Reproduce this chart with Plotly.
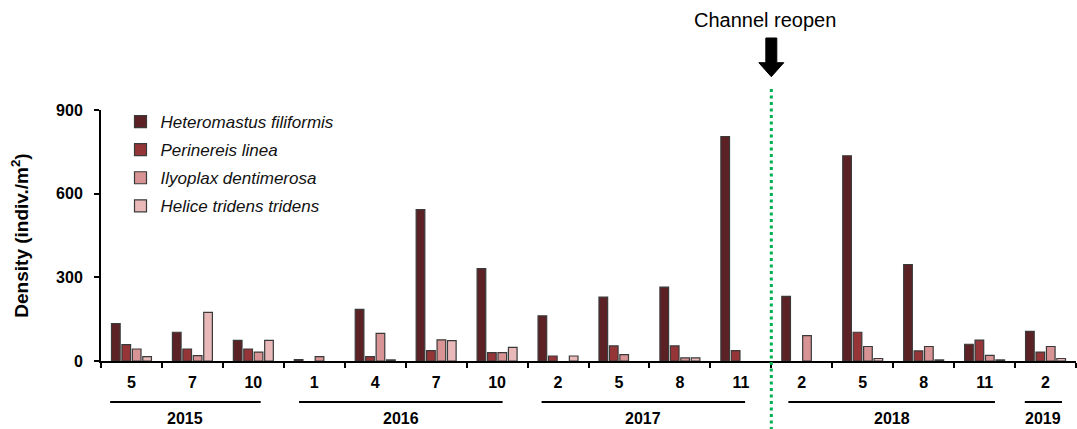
import plotly.graph_objects as go

# Sampling months, grouped by year
months = ["5", "7", "10", "1", "4", "7", "10", "2", "5", "8", "11", "2", "5", "8", "11", "2"]
year_labels = ["2015", "2016", "2017", "2018", "2019"]
year_first = [0, 3, 7, 11, 15]
year_last = [2, 6, 10, 14, 15]

# Density (indiv./m2) per species
species = ["Heteromastus filiformis", "Perinereis linea", "Ilyoplax dentimerosa", "Helice tridens tridens"]
heteromastus = [134, 103, 74, 5, 185, 543, 331, 162, 229, 265, 805, 232, 736, 346, 60, 106]
perinereis = [59, 43, 43, 0, 16, 37, 30, 18, 54, 54, 37, 0, 103, 36, 75, 32]
ilyoplax = [43, 19, 32, 16, 99, 76, 30, 0, 23, 11, 0, 91, 52, 52, 20, 52]
helice = [16, 174, 74, 0, 4, 73, 49, 18, 0, 11, 0, 0, 9, 4, 4, 9]

colors = ["#5c2124", "#963538", "#d89394", "#e9b9b9"]
FONT = "Liberation Sans, Arial, sans-serif"

x = list(range(len(months)))
reopen_x = 10.5  # boundary between Nov 2017 and Feb 2018


def py(px):
    """Vertical pixel position -> paper fraction of the plot area (0 at y=0 line)."""
    return (361 - px) / 251


fig = go.Figure()
for name, vals, col in zip(species, [heteromastus, perinereis, ilyoplax, helice], colors):
    # no outline on empty bars so they leave no mark on the axis
    widths = [0 if v == 0 else 1.2 for v in vals]
    fig.add_trace(go.Bar(
        x=x, y=vals, name=name, legendgroup=name,
        marker=dict(color=col, line=dict(color="#3a3a3a", width=widths)),
    ))

shapes = []
# green dotted line marking the channel reopening
shapes.append(dict(type="line", xref="x", yref="paper", x0=reopen_x, x1=reopen_x,
                   y0=py(89), y1=py(440), line=dict(color="#00b050", width=3, dash="3px,3.5px")))
# thick downward arrow
sw, hw = 0.09, 0.205
shapes.append(dict(
    type="path", xref="x", yref="paper", fillcolor="black", line=dict(color="black", width=1),
    path=(f"M {reopen_x - sw} {py(38)} L {reopen_x + sw} {py(38)} L {reopen_x + sw} {py(62.7)} "
          f"L {reopen_x + hw} {py(62.7)} L {reopen_x} {py(76.7)} L {reopen_x - hw} {py(62.7)} "
          f"L {reopen_x - sw} {py(62.7)} Z"),
))

annotations = [dict(text="Channel reopen", x=10.39, y=py(20), xref="x", yref="paper",
                    showarrow=False, xanchor="center", yanchor="middle",
                    font=dict(family=FONT, size=20, color="black"))]

# year underlines and labels
pad_left = [0.35, 0.25, 0.27, 0.22, 0.34]
pad_right = [0.12, 0.09, 0.07, 0.17, 0.27]
for lab, a, b, pl, pr in zip(year_labels, year_first, year_last, pad_left, pad_right):
    x0, x1 = a - pl, b + pr
    shapes.append(dict(type="line", xref="x", yref="paper", x0=x0, x1=x1, y0=py(402), y1=py(402),
                       line=dict(color="black", width=2)))
    annotations.append(dict(text=lab, x=(x0 + x1) / 2, y=py(418), xref="x", yref="paper",
                            showarrow=False, xanchor="center", yanchor="middle",
                            font=dict(family=FONT, size=16, color="black", weight="bold")))

fig.update_layout(
    width=1077, height=429,
    margin=dict(l=101, r=1, t=110, b=68),
    paper_bgcolor="white", plot_bgcolor="white",
    barmode="group", bargap=0.315, bargroupgap=0.17,
    font=dict(family=FONT, color="black"),
    showlegend=True,
    legend=dict(x=0.02, y=1.024, xanchor="left", yanchor="top",
                bgcolor="rgba(0,0,0,0)", tracegroupgap=3,
                font=dict(family=FONT, size=17, color="#111", style="italic")),
    shapes=shapes, annotations=annotations,
)

fig.update_xaxes(
    range=[-0.5, len(months) - 0.5],
    tickvals=x, ticktext=months, ticks="",
    tickfont=dict(family=FONT, size=16, color="black", weight="bold"),
    ticklabelstandoff=6,
    showline=True, linecolor="black", linewidth=2,
    showgrid=False, zeroline=False,
    minor=dict(tickvals=[i - 0.5 for i in range(len(months) + 1)],
               ticks="outside", ticklen=5, tickwidth=2, tickcolor="black"),
)
fig.update_yaxes(
    range=[0, 900], tickvals=[0, 300, 600, 900],
    ticks="outside", ticklen=5, tickwidth=2, tickcolor="black",
    tickfont=dict(family=FONT, size=16, color="black", weight="bold"),
    ticklabelstandoff=8,
    showline=True, linecolor="black", linewidth=2,
    showgrid=False, zeroline=False,
    title=dict(text="Density (indiv./m<sup>2</sup>)", standoff=22,
               font=dict(family=FONT, size=19, color="black", weight="bold")),
)

fig.write_html("out.html")
